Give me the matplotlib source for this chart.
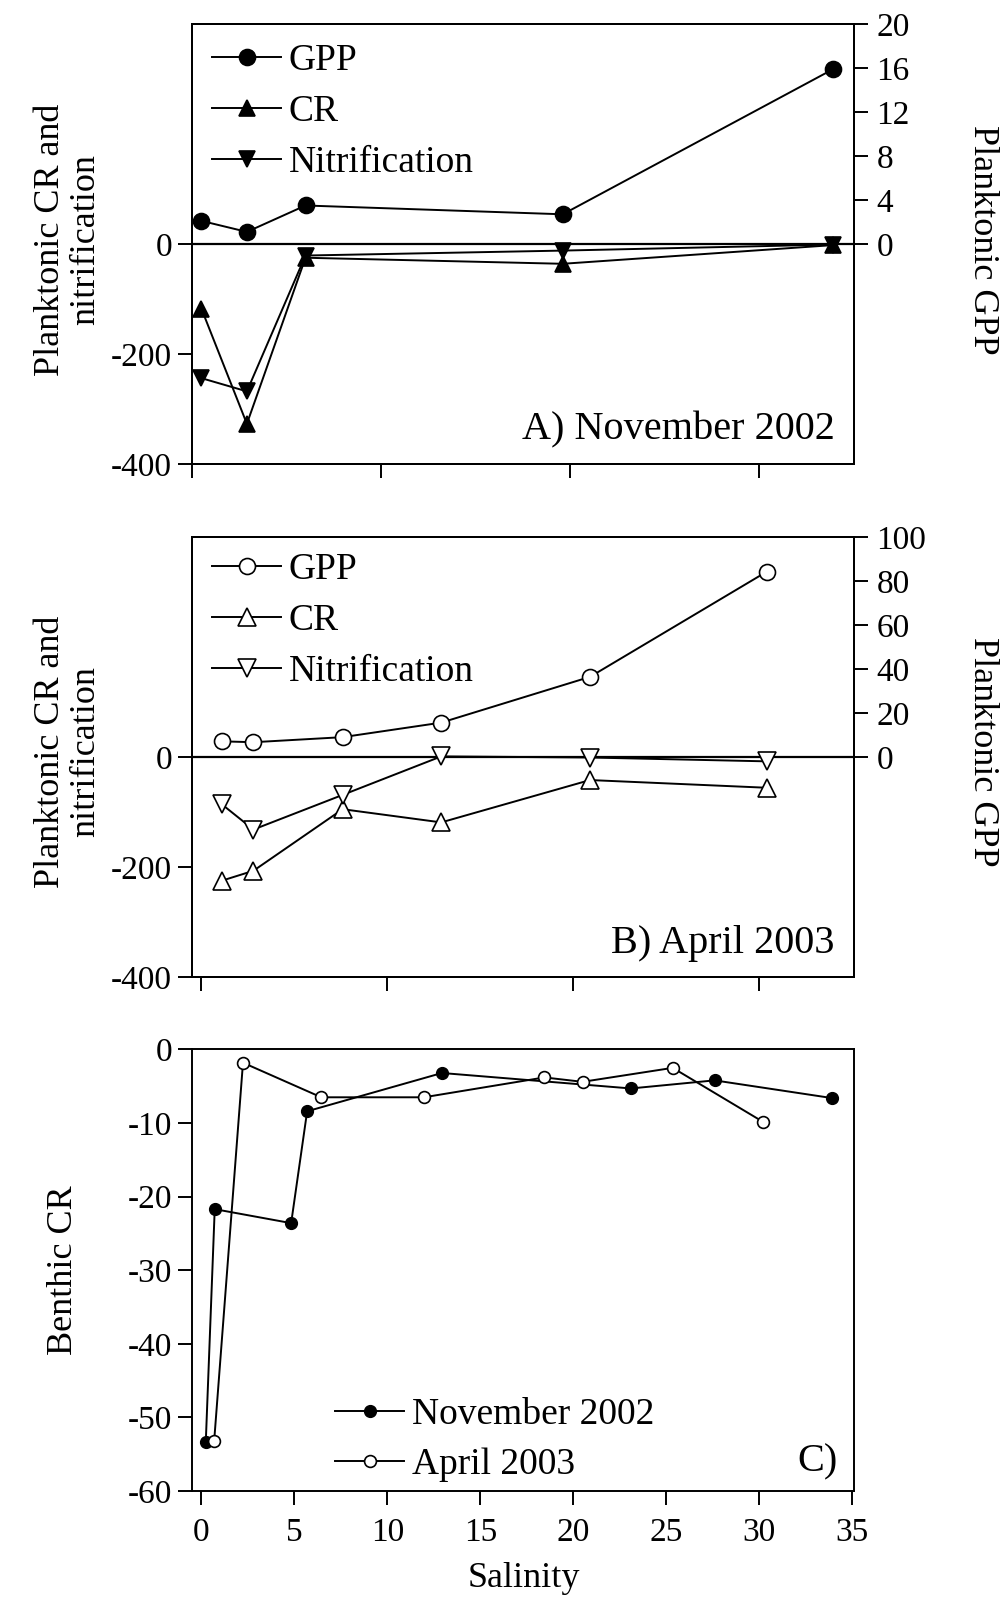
import matplotlib
matplotlib.use("Agg")
import matplotlib.pyplot as plt

plt.rcParams['font.family'] = ['Liberation Serif', 'DejaVu Serif']
plt.rcParams['axes.unicode_minus'] = False
plt.rcParams['axes.linewidth'] = 1.4

# A) November 2002 - planktonic
sal_nov = [0.5, 2.9, 6.0, 19.6, 33.9]
gpp_nov = [2.1, 1.1, 3.5, 2.7, 15.9]
cr_nov = [-118, -327, -25, -36, -2]
nit_nov = [-244, -268, -21, -12, -1]

# B) April 2003 - planktonic
sal_apr = [1.1, 2.8, 7.6, 12.9, 20.9, 30.4]
gpp_apr = [7.1, 6.7, 9.0, 15.6, 36.4, 84.2]
cr_apr = [-225, -207, -95, -119, -42, -56]
nit_apr = [-86, -132, -69, 1, -1, -8]

# C) benthic CR
sal_ben_nov = [0.24, 0.72, 4.83, 5.69, 12.94, 23.1, 27.6, 33.9]
ben_nov = [-53.3, -21.7, -23.6, -8.4, -3.2, -5.3, -4.2, -6.6]
sal_ben_apr = [0.69, 2.24, 6.45, 11.97, 18.45, 20.5, 25.35, 30.18]
ben_apr = [-53.2, -1.8, -6.5, -6.5, -3.8, -4.4, -2.5, -9.8]

left_ticks = [-400, -200, 0]
tick_fs = 24
lab_fs = 26
leg_fs = 27
W, H = 1007, 1601

fig = plt.figure(figsize=(W / 100, H / 100), dpi=100)

def tick_style(ax):
    ax.tick_params(direction='out', length=10, width=1.4, labelsize=tick_fs, pad=4.5)

def planktonic(rect, sal, gpp, cr, nit, filled, xlim, gmax, gstep, label, ycen, legy):
    ax = fig.add_axes(rect)
    ax2 = ax.twinx()
    fc = 'k' if filled else 'white'
    tri = 12 if filled else 13
    kw = dict(color='k', lw=1.4, mec='k', mew=1.2, mfc=fc)
    ax.axhline(0, color='k', lw=1.6)
    h2, = ax.plot(sal, cr, marker='^', ms=tri, **kw)
    h3, = ax.plot(sal, nit, marker='v', ms=tri, **kw)
    h1, = ax2.plot(sal, gpp, marker='o', ms=11.5, **kw)
    ax.set_xlim(*xlim)
    ax.set_ylim(-400, 400)
    ax2.set_ylim(-gmax, gmax)
    ax.set_yticks(left_ticks)
    ax2.set_yticks(range(0, gmax + 1, gstep))
    ax.set_xticks([0, 10, 20, 30])
    ax.set_xticklabels([])
    tick_style(ax)
    tick_style(ax2)
    ax2.tick_params(pad=6)
    fig.text(68 / W, 1 - ycen / H, 'Planktonic CR and\nnitrification', fontsize=lab_fs,
             rotation=90, ha='center', va='center', multialignment='center',
             linespacing=1.08)
    fig.text(982 / W, 1 - ycen / H, 'Planktonic GPP', fontsize=lab_fs,
             rotation=270, ha='center', va='center')
    ax2.legend([h1, h2, h3], ['GPP', 'CR', 'Nitrification'], loc='upper left',
               bbox_to_anchor=(0.03, legy), frameon=False, fontsize=leg_fs,
               borderpad=0, borderaxespad=0, handlelength=1.85,
               handletextpad=0.2, labelspacing=0.44)
    ax.text(0.971, 0.055, label, transform=ax.transAxes, ha='right',
            va='baseline', fontsize=29)
    return ax

planktonic([0.1907, 0.7102, 0.6574, 0.2748], sal_nov, gpp_nov, cr_nov, nit_nov,
           True, (0, 35), 20, 4, 'A) November 2002', 240, 0.956)
planktonic([0.1907, 0.3898, 0.6574, 0.2748], sal_apr, gpp_apr, cr_apr, nit_apr,
           False, (-0.5, 35.1), 100, 20, 'B) April 2003', 752, 0.964)

# C) benthic
ax = fig.add_axes([0.1907, 0.0687, 0.6574, 0.2758])
ax.plot(sal_ben_nov, ben_nov, color='k', lw=1.4, marker='o', ms=8.5,
        mfc='k', mec='k', label='November 2002')
ax.plot(sal_ben_apr, ben_apr, color='k', lw=1.4, marker='o', ms=8.5,
        mfc='white', mec='k', mew=1.2, label='April 2003')
ax.set_xlim(-0.5, 35.1)
ax.set_ylim(-60, 0)
ax.set_xticks(range(0, 36, 5))
ax.set_yticks(range(-60, 1, 10))
tick_style(ax)
ax.tick_params(axis='x', pad=9)
fig.text(524 / W, 1 - 1578 / H, 'Salinity', fontsize=lab_fs, ha='center', va='center')
fig.text(64 / W, 1 - 1270 / H, 'Benthic CR', fontsize=lab_fs, rotation=90,
         ha='center', va='center')
ax.legend(loc='upper left', bbox_to_anchor=(0.216, 0.211), frameon=False,
          fontsize=leg_fs, borderpad=0, borderaxespad=0, handlelength=1.85,
          handletextpad=0.2, labelspacing=0.40)
ax.text(0.975, 0.045, 'C)', transform=ax.transAxes, ha='right',
        va='baseline', fontsize=29)

fig.savefig('out.png', dpi=100)
